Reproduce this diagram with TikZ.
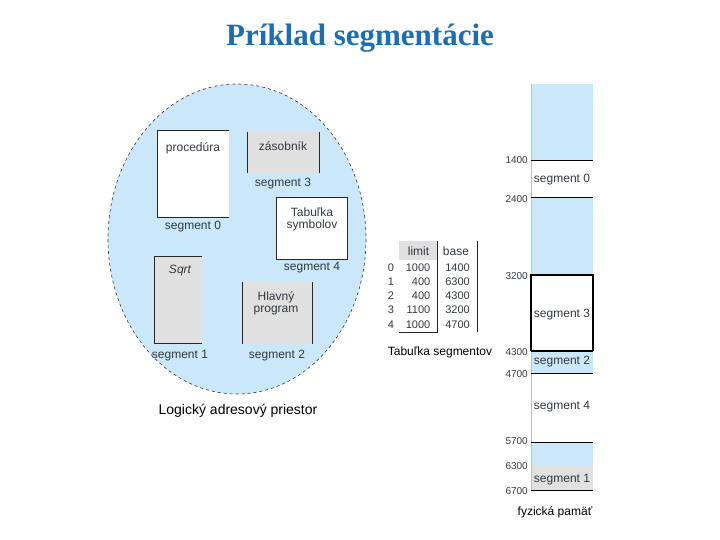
\documentclass[tikz,border=0pt]{standalone}
\usepackage{fontspec}
\setmainfont{Liberation Sans}
\newfontfamily\titlefont{Liberation Serif}
\definecolor{lblue}{RGB}{202,232,250}
\definecolor{lgray}{RGB}{224,224,224}
\definecolor{txt}{RGB}{50,56,62}
\definecolor{ttl}{RGB}{28,110,180}
\tikzset{
  lbl/.style={inner sep=0pt, text=txt, font=\fontsize{12}{13.5}\selectfont},
  addr/.style={inner sep=0pt, text=txt, anchor=east, font=\fontsize{10}{12}\selectfont},
  tbl/.style={inner sep=0pt, text=txt, font=\fontsize{11}{12}\selectfont},
  edge/.style={draw=black!85, line width=0.8pt},
}
\begin{document}
\begin{tikzpicture}[x=1pt,y=-1pt]
\useasboundingbox (0,0) rectangle (720,540);
% title
\node[anchor=base, inner sep=0pt, text=ttl, font=\titlefont\bfseries\fontsize{31}{34}\selectfont] (title) at (360,46) {Príklad segmentácie};
% logical address space
\path[fill=lblue, draw=black!80, dashed, line width=0.6pt] (237,239) ellipse [x radius=129, y radius=155];
% segment 0 box
\fill[white] (157,130) rectangle (229,217);
\draw[edge] (229,130) -- (157,130) -- (157,217) -- (229,217);
\node[lbl] (proc) at (193,148) {procedúra};
\node[lbl] (s0) at (193,227) {segment 0};
% segment 3 box
\fill[lgray] (247,132) rectangle (319,173);
\draw[edge] (247,132) -- (247,173) (319,132) -- (319,173);
\node[lbl] (zas) at (283,146.5) {zásobník};
\node[lbl] (s3) at (283,184) {segment 3};
% segment 4 box
\fill[white] (276,197) rectangle (347,259);
\draw[edge] (276,197) rectangle (347,259);
\node[lbl, align=center] (tab) at (312,219) {Tabuľka\\[-1.5pt]symbolov};
\node[lbl] (s4) at (312,268) {segment 4};
% segment 1 box
\fill[lgray] (154,256) rectangle (202,343);
\draw[edge] (202,256) -- (154,256) -- (154,343) -- (202,343);
\node[lbl, font=\itshape\fontsize{12}{13.5}\selectfont] (sqrt) at (180,271) {Sqrt};
\node[lbl] (s1) at (180,356) {segment 1};
% segment 2 box
\fill[lgray] (242,282) rectangle (312,344);
\draw[edge] (242,282) -- (242,344) (312,282) -- (312,344);
\node[lbl, align=center] (hlav) at (276,303.5) {Hlavný\\[-1.5pt]program};
\node[lbl] (s2) at (277,356) {segment 2};
\node[inner sep=0pt, font=\fontsize{14}{16}\selectfont] (las) at (238,411) {Logický adresový priestor};
% segment table
\fill[lgray] (399,241) rectangle (437.7,260);
\draw[edge] (437.7,241) -- (437.7,332) (477.5,241) -- (477.5,332) (399,332) -- (437.7,332);
\node[tbl, font=\fontsize{12}{13}\selectfont] (hlim) at (418.5,251.5) {limit};
\node[tbl, font=\fontsize{12}{13}\selectfont] (hbas) at (456,251.5) {base};
\foreach \i/\l/\b [count=\k from 0] in {0/1000/1400,1/400/6300,2/400/4300,3/1100/3200,4/1000/4700}{
  \node[tbl] (r\k) at (391,267.5+14.2*\k) {\i};
  \node[tbl, anchor=east] (l\k) at (430.5,267.5+14.2*\k) {\l};
  \node[tbl, anchor=east] (b\k) at (470,267.5+14.2*\k) {\b};
}
\node[inner sep=0pt, font=\fontsize{12}{14}\selectfont] (tseg) at (440,352) {Tabuľka segmentov};
% physical memory
\fill[lblue] (531,84) rectangle (593,160);
\fill[lblue] (531,197) rectangle (593,275);
\fill[lblue] (531,351) rectangle (593,373);
\fill[lblue] (531,442) rectangle (593,466);
\fill[lgray] (531,466) rectangle (593,490);
\draw[black!25, line width=0.5pt] (531,84) -- (531,490);
\draw[black, line width=0.9pt] (531,160) -- (593,160) (531,197) -- (593,197)
  (531,373) -- (593,373) (531,442) -- (593,442) (531,490) -- (593,490);
\draw[black, line width=1.1pt] (531,351) -- (531,275) -- (593,275) -- (593,351);
\draw[black, line width=1.6pt] (531,351) -- (593,351);
\node[addr] (a1) at (528,160) {1400};
\node[addr] (a2) at (528,199) {2400};
\node[addr] (a3) at (528,276) {3200};
\node[addr] (a4) at (528,352) {4300};
\node[addr] (a5) at (528,374.5) {4700};
\node[addr] (a6) at (528,441) {5700};
\node[addr] (a7) at (528,466) {6300};
\node[addr] (a8) at (528,491.5) {6700};
\node[lbl] (m0) at (562,180) {segment 0};
\node[lbl] (m3) at (562,315) {segment 3};
\node[lbl] (m2) at (562,362) {segment 2};
\node[lbl] (m4) at (562,407) {segment 4};
\node[lbl] (m1) at (562,480) {segment 1};
\node[inner sep=0pt, font=\fontsize{12}{14}\selectfont] (fyz) at (555,512) {fyzická pamäť};
\end{tikzpicture}
\end{document}
